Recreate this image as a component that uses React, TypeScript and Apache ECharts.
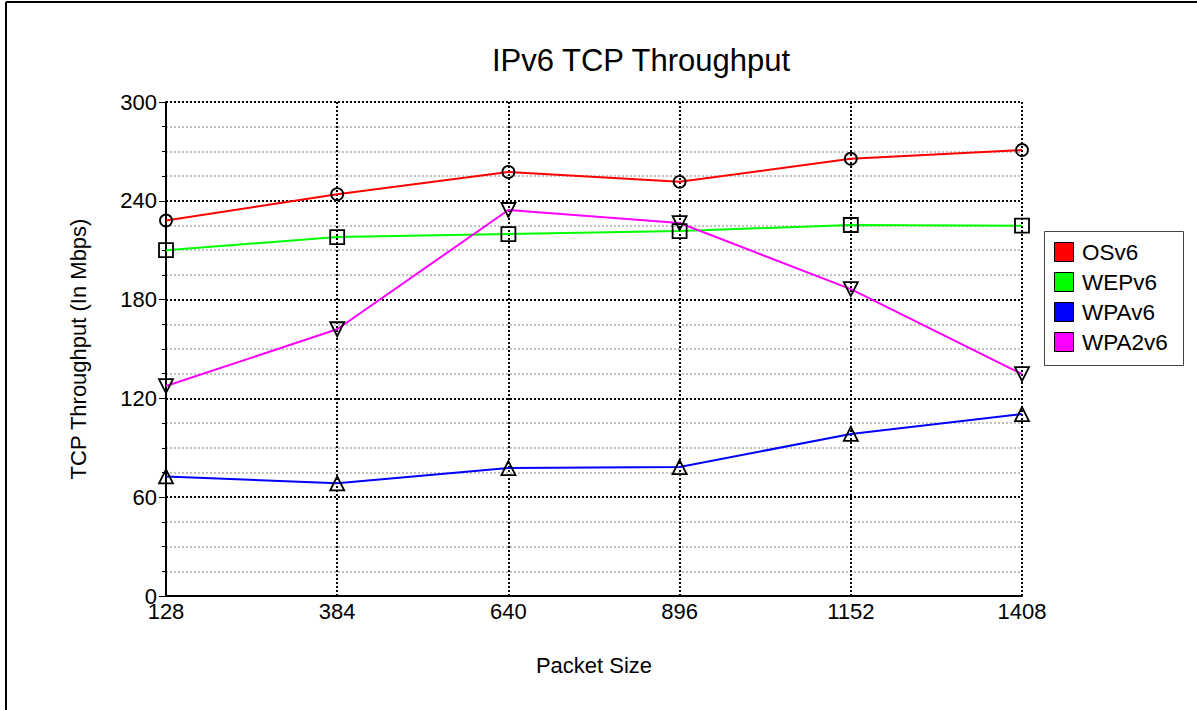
import React, { useEffect, useRef } from "react";
import * as echarts from "echarts";

const packetSizes = ["128", "384", "640", "896", "1152", "1408"];
const osv6 = [228, 244, 257.5, 251.5, 265.5, 270.8];
const wepv6 = [210, 218, 219.8, 221.6, 225.3, 224.9];
const wpav6 = [72.6, 68.4, 77.7, 78.3, 98.4, 110.5];
const wpa2v6 = [127.5, 162, 234.4, 226.5, 186.4, 134.8];

const seriesNames = ["OSv6", "WEPv6", "WPAv6", "WPA2v6"];
const seriesColors = ["#ff0000", "#00ff00", "#0000ff", "#ff00ff"];
const seriesSymbols = ["circle", "rect", "triangle", "triangle"];
const seriesRotate = [0, 0, 0, 180];
const seriesSizes = [12, 14, 14, 14];
const seriesData = [osv6, wepv6, wpav6, wpa2v6];

const FONT = "Liberation Sans, Arial, sans-serif";

export default function App() {
  const ref = useRef<HTMLDivElement>(null);
  useEffect(() => {
    document.body.style.margin = "0";
    const chart = echarts.init(ref.current!, null, { renderer: "svg" });
    const legendGraphics: any[] = [
      {
        type: "rect",
        shape: { x: 1044.5, y: 231.5, width: 139, height: 134 },
        style: { fill: "#fff", stroke: "#444", lineWidth: 1 },
      },
    ];
    seriesNames.forEach((n, i) => {
      legendGraphics.push({
        type: "rect",
        shape: { x: 1054.5, y: 242.5 + i * 30, width: 19, height: 19 },
        style: { fill: seriesColors[i], stroke: "#000", lineWidth: 1 },
      });
      legendGraphics.push({
        type: "text",
        x: 1082,
        y: 252 + i * 30,
        style: {
          text: n,
          fill: "#000",
          font: `22.5px ${FONT}`,
          textVerticalAlign: "middle",
          verticalAlign: "middle",
        },
      });
    });
    chart.setOption({
      animation: false,
      backgroundColor: "#fff",
      title: {
        text: "IPv6 TCP Throughput",
        left: 636,
        textAlign: "center",
        top: 40,
        textStyle: { fontFamily: FONT, fontSize: 31, fontWeight: "normal", color: "#000" },
      },
      grid: { left: 166, right: 175, top: 102, bottom: 114, containLabel: false },
      xAxis: {
        type: "category",
        data: packetSizes,
        boundaryGap: false,
        name: "Packet Size",
        nameLocation: "middle",
        nameGap: 58,
        nameTextStyle: { fontFamily: FONT, fontSize: 22, color: "#000" },
        axisLine: { lineStyle: { color: "#000", width: 2 } },
        axisTick: { show: false },
        axisLabel: { fontFamily: FONT, fontSize: 22, color: "#000", margin: 4 },
        splitLine: { show: true, lineStyle: { color: "#000", type: [2, 2], width: 2 } },
      },
      yAxis: {
        type: "value",
        min: 0,
        max: 300,
        interval: 60,
        name: "TCP Throughput (In Mbps)",
        nameLocation: "middle",
        nameGap: 77,
        nameTextStyle: { fontFamily: FONT, fontSize: 22, color: "#000" },
        axisLine: { show: true, lineStyle: { color: "#000", width: 2 } },
        axisTick: { show: true, length: 7, lineStyle: { color: "#000", width: 1 } },
        minorTick: { show: true, splitNumber: 4, length: 4, lineStyle: { color: "#000", width: 1 } },
        axisLabel: { fontFamily: FONT, fontSize: 22, color: "#000", margin: 9 },
        splitLine: { show: true, lineStyle: { color: "#000", type: [2, 2], width: 2 } },
        minorSplitLine: { show: true, lineStyle: { color: "#c0c0c0", type: [2, 2], width: 2 } },
      },
      series: seriesNames.map((n, i) => ({
        name: n,
        type: "line",
        data: seriesData[i],
        symbol: seriesSymbols[i],
        symbolSize: seriesSizes[i],
        symbolRotate: seriesRotate[i],
        showAllSymbol: true,
        lineStyle: { color: seriesColors[i], width: 2 },
        itemStyle: { color: "transparent", borderColor: "#000", borderWidth: 1.8 },
        emphasis: { disabled: true },
        z: 3,
      })),
      graphic: [
        {
          type: "line",
          shape: { x1: 6, y1: 2, x2: 1197, y2: 2 },
          style: { stroke: "#000", lineWidth: 2 },
        },
        {
          type: "line",
          shape: { x1: 6, y1: 2, x2: 6, y2: 710 },
          style: { stroke: "#000", lineWidth: 2 },
        },
        ...legendGraphics,
      ],
    });
    return () => chart.dispose();
  }, []);
  return <div ref={ref} style={{ width: 1197, height: 710 }} />;
}
